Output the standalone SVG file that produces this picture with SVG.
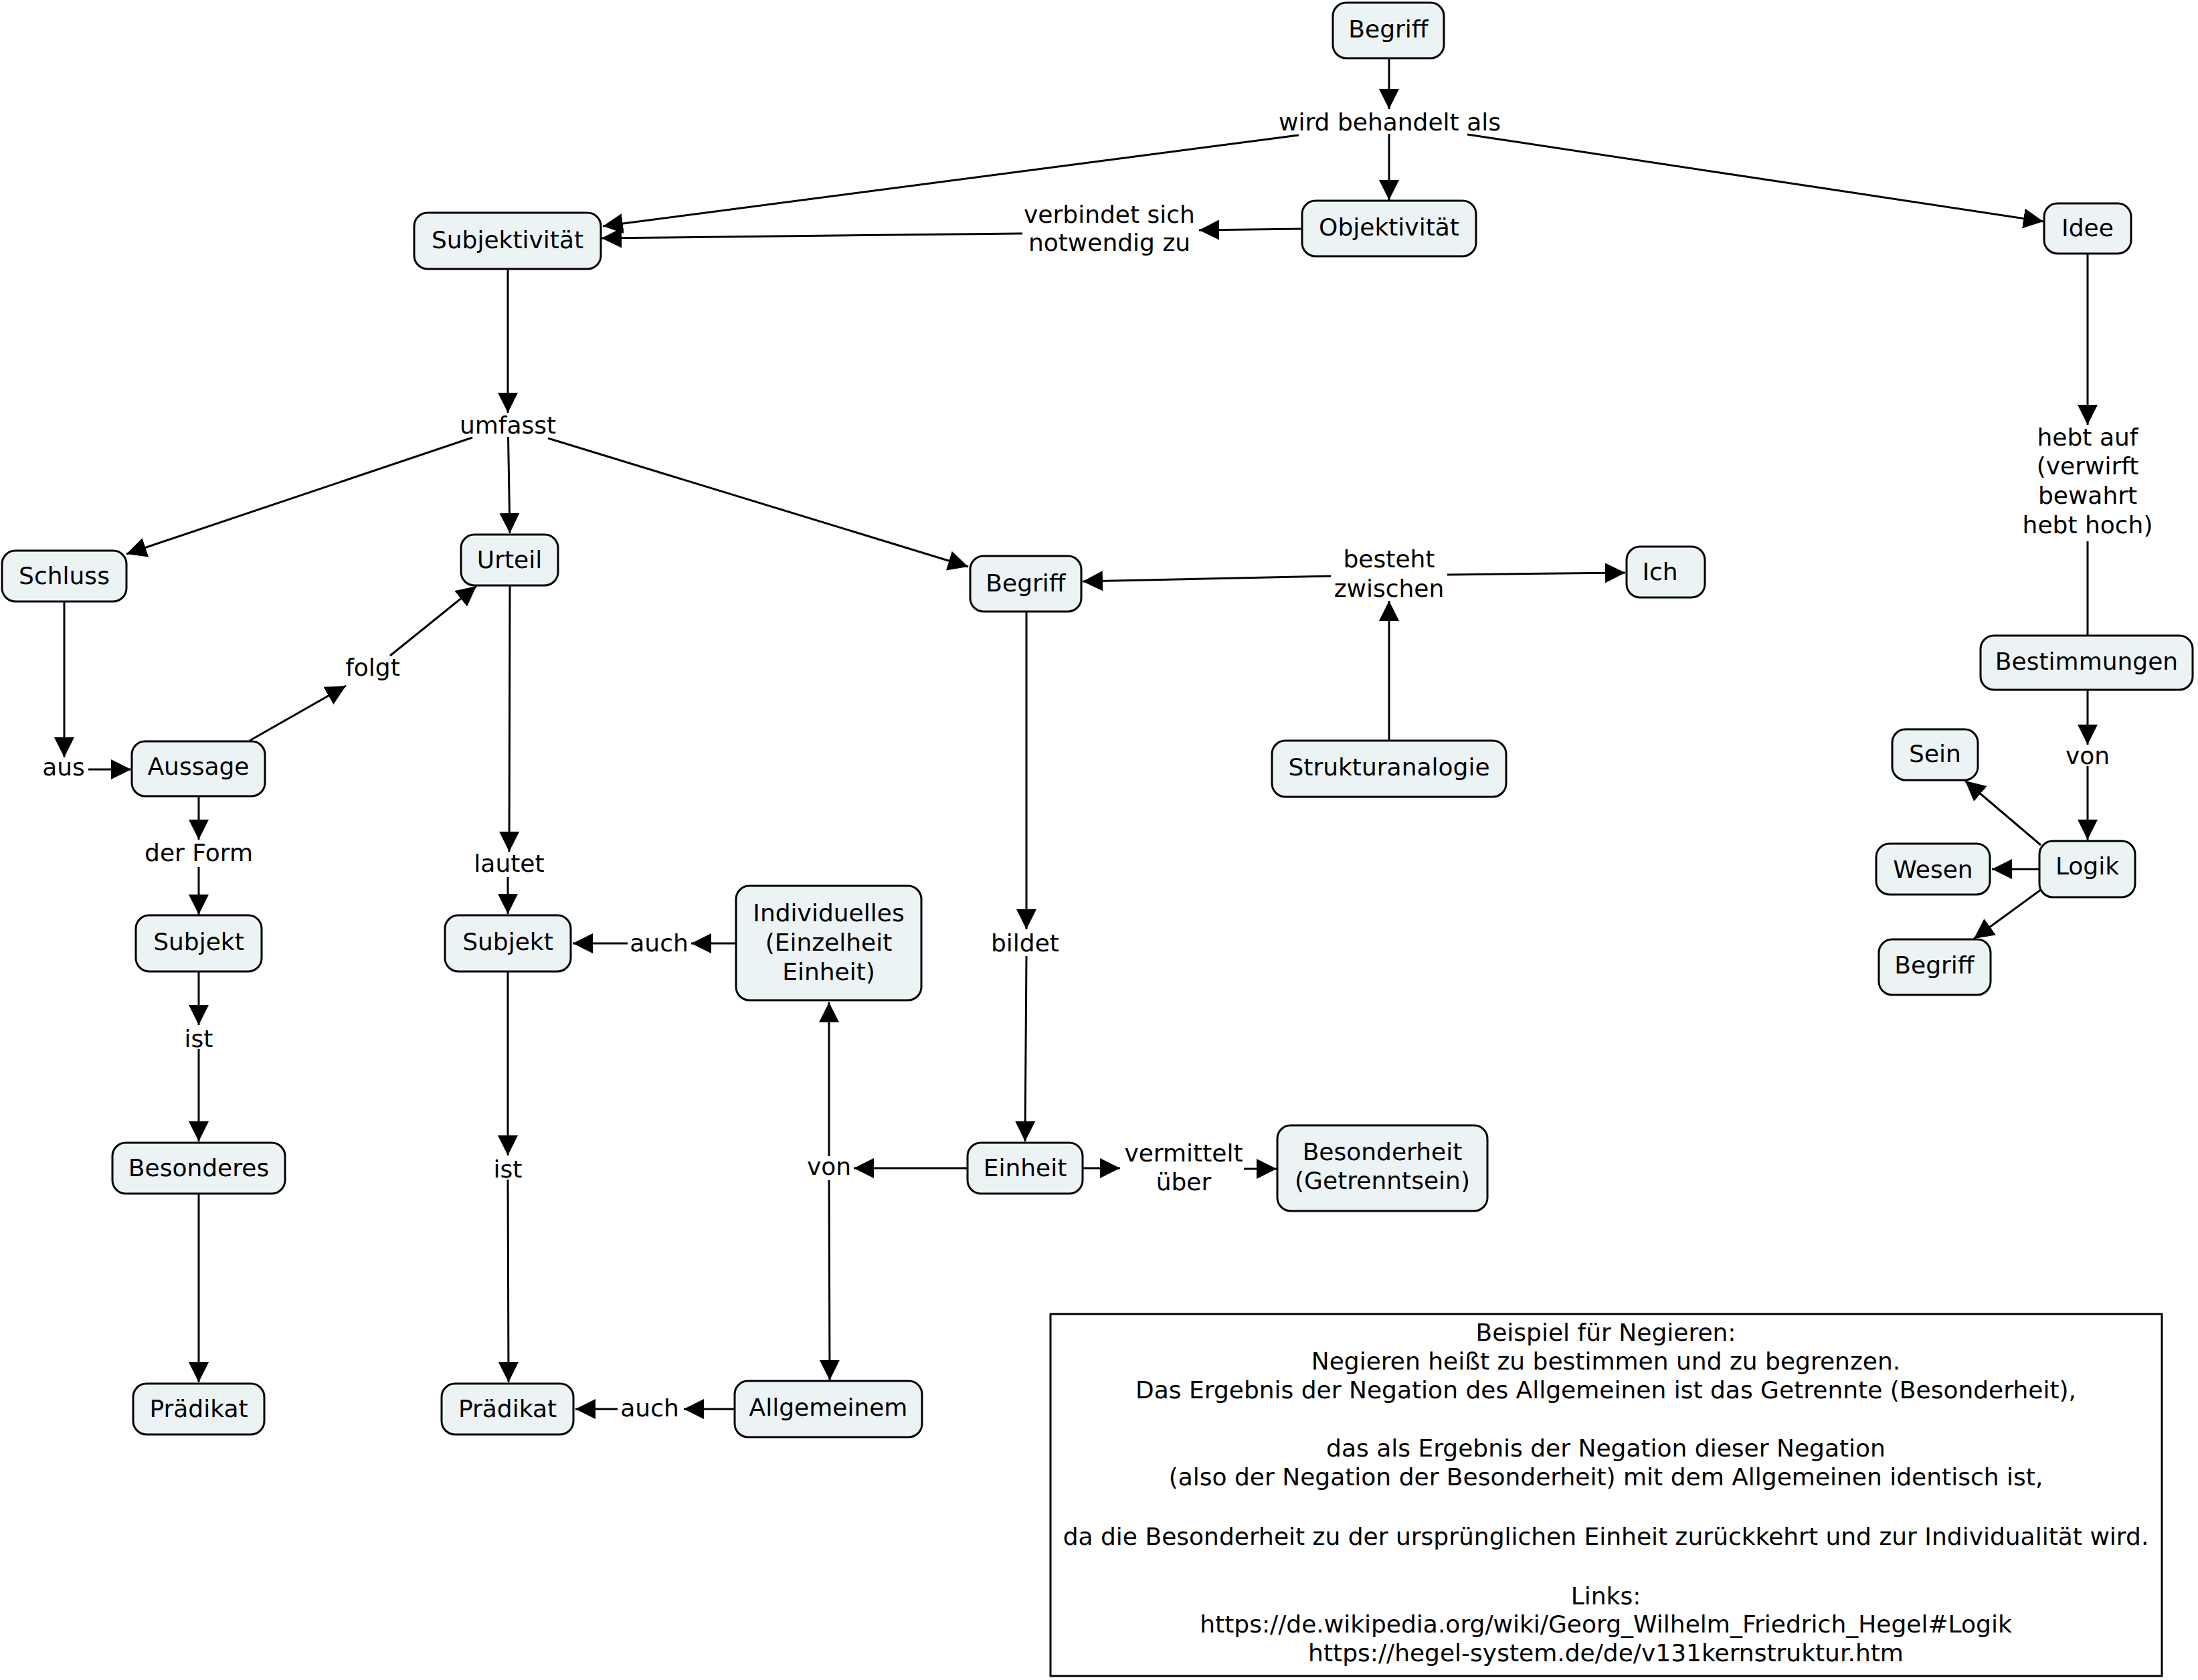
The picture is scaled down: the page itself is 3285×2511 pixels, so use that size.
<svg xmlns="http://www.w3.org/2000/svg" width="3285" height="2511" viewBox="0 0 3285 2511">
<style>
.n rect{fill:#ECF3F5;stroke:#000;stroke-width:3}
text{font-family:"DejaVu Sans","Verdana",sans-serif;font-size:36px;fill:#000;text-anchor:middle}
.c line{stroke:#000;stroke-width:3;fill:none}
.c line.a{marker-end:url(#ah)}
</style>
<defs>
<marker id="ah" markerUnits="userSpaceOnUse" markerWidth="32" markerHeight="32" refX="30" refY="15" orient="auto" viewBox="0 0 32 32">
<path d="M0,0 L30,15 L0,30 z" fill="#000"/>
</marker>
</defs>
<rect x="0" y="0" width="3285" height="2511" fill="#fff"/>
<g class="c" id="connectors">
<line class="a" x1="2076" y1="87" x2="2076" y2="163"/>
<line class="a" x1="2076" y1="200" x2="2076" y2="299"/>
<line class="a" x1="1941" y1="202" x2="901" y2="338"/>
<line class="a" x1="2193" y1="201" x2="3054" y2="331"/>
<line class="a" x1="1946" y1="342" x2="1792" y2="344"/>
<line class="a" x1="1528" y1="349" x2="899" y2="356"/>
<line class="a" x1="759" y1="402" x2="759" y2="617"/>
<line class="a" x1="706" y1="654" x2="189" y2="828"/>
<line class="a" x1="759.5" y1="653" x2="762" y2="797"/>
<line class="a" x1="819" y1="655" x2="1447" y2="847"/>
<line class="a" x1="96" y1="899" x2="96" y2="1132"/>
<line class="a" x1="132" y1="1150" x2="196" y2="1150"/>
<line class="a" x1="373" y1="1107" x2="517" y2="1025"/>
<line class="a" x1="583" y1="980" x2="712" y2="876"/>
<line class="a" x1="762" y1="875" x2="761" y2="1273"/>
<line class="a" x1="759" y1="1311" x2="759" y2="1366"/>
<line class="a" x1="297" y1="1190" x2="297" y2="1255"/>
<line class="a" x1="297" y1="1296" x2="297" y2="1367"/>
<line class="a" x1="297" y1="1452" x2="297" y2="1532"/>
<line class="a" x1="297" y1="1568" x2="297" y2="1706"/>
<line class="a" x1="297" y1="1784" x2="297" y2="2066"/>
<line class="a" x1="759" y1="1452" x2="759" y2="1727"/>
<line class="a" x1="759" y1="1763" x2="760" y2="2066"/>
<line class="a" x1="1100" y1="1410" x2="1033" y2="1410"/>
<line class="a" x1="938" y1="1410" x2="856" y2="1410"/>
<line class="a" x1="1097" y1="2106" x2="1022" y2="2106"/>
<line class="a" x1="923" y1="2106" x2="860" y2="2106"/>
<line class="a" x1="1446" y1="1746" x2="1276" y2="1746"/>
<line class="a" x1="1239" y1="1728" x2="1239" y2="1498"/>
<line class="a" x1="1239" y1="1764" x2="1240" y2="2063"/>
<line class="a" x1="1534" y1="914" x2="1534" y2="1389"/>
<line class="a" x1="1534" y1="1429" x2="1532" y2="1706"/>
<line class="a" x1="1618" y1="1746" x2="1674" y2="1746"/>
<line class="a" x1="1859" y1="1747" x2="1908" y2="1747"/>
<line class="a" x1="2076" y1="1107" x2="2076" y2="898"/>
<line class="a" x1="1989" y1="861" x2="1618" y2="869"/>
<line class="a" x1="2163" y1="859" x2="2429" y2="856"/>
<line class="a" x1="3120" y1="379" x2="3120" y2="635"/>
<line x1="3120" y1="809" x2="3120" y2="950"/>
<line class="a" x1="3120" y1="1031" x2="3120" y2="1113"/>
<line class="a" x1="3120" y1="1145" x2="3120" y2="1255"/>
<line class="a" x1="3050" y1="1263" x2="2937" y2="1167"/>
<line class="a" x1="3048" y1="1299" x2="2977" y2="1299"/>
<line class="a" x1="3050" y1="1330" x2="2950" y2="1403"/>
</g>
<g id="labels">
<text x="2077" y="195">wird behandelt als</text>
<text x="1658" y="333">verbindet sich</text>
<text x="1658" y="375">notwendig zu</text>
<text x="759" y="648">umfasst</text>
<text x="3120" y="666">hebt auf</text>
<text x="3120" y="709">(verwirft</text>
<text x="3120" y="753">bewahrt</text>
<text x="3120" y="797">hebt hoch)</text>
<text x="2076" y="848">besteht</text>
<text x="2076" y="892">zwischen</text>
<text x="95" y="1159">aus</text>
<text x="557" y="1010">folgt</text>
<text x="297" y="1287">der Form</text>
<text x="761" y="1303">lautet</text>
<text x="3120" y="1142">von</text>
<text x="297" y="1565">ist</text>
<text x="985" y="1422">auch</text>
<text x="1532" y="1422">bildet</text>
<text x="759" y="1760">ist</text>
<text x="1239" y="1756">von</text>
<text x="1769" y="1736">vermittelt</text>
<text x="1769" y="1779">über</text>
<text x="971" y="2117">auch</text>
</g>
<g class="n" id="n-begriff-top"><rect x="1992" y="4" width="166" height="83" rx="20"/><text x="2075" y="56">Begriff</text></g>
<g class="n" id="n-objektivitaet"><rect x="1946" y="300" width="260" height="83" rx="20"/><text x="2076" y="352">Objektivität</text></g>
<g class="n" id="n-subjektivitaet"><rect x="619" y="318" width="279" height="84" rx="20"/><text x="758.5" y="371">Subjektivität</text></g>
<g class="n" id="n-idee"><rect x="3055" y="304" width="130" height="75" rx="20"/><text x="3120" y="353">Idee</text></g>
<g class="n" id="n-schluss"><rect x="3" y="823" width="186" height="76" rx="20"/><text x="96" y="873">Schluss</text></g>
<g class="n" id="n-urteil"><rect x="689" y="799" width="145" height="76" rx="20"/><text x="761.5" y="849">Urteil</text></g>
<g class="n" id="n-begriff-mid"><rect x="1450" y="831" width="166" height="83" rx="20"/><text x="1533" y="884">Begriff</text></g>
<g class="n" id="n-ich"><rect x="2431" y="817" width="117" height="76" rx="20"/><text x="2481" y="867">Ich</text></g>
<g class="n" id="n-strukturanalogie"><rect x="1901" y="1107" width="350" height="84" rx="20"/><text x="2076" y="1159">Strukturanalogie</text></g>
<g class="n" id="n-bestimmungen"><rect x="2960" y="950" width="317" height="81" rx="20"/><text x="3118.5" y="1001">Bestimmungen</text></g>
<g class="n" id="n-sein"><rect x="2828" y="1090" width="128" height="76" rx="20"/><text x="2892" y="1139">Sein</text></g>
<g class="n" id="n-wesen"><rect x="2804" y="1261" width="170" height="76" rx="20"/><text x="2889" y="1312">Wesen</text></g>
<g class="n" id="n-logik"><rect x="3048" y="1257" width="143" height="84" rx="20"/><text x="3119.5" y="1307">Logik</text></g>
<g class="n" id="n-begriff-right"><rect x="2808" y="1404" width="167" height="83" rx="20"/><text x="2891" y="1455">Begriff</text></g>
<g class="n" id="n-aussage"><rect x="197" y="1108" width="199" height="82" rx="20"/><text x="296.5" y="1158">Aussage</text></g>
<g class="n" id="n-subjekt1"><rect x="203" y="1368" width="188" height="84" rx="20"/><text x="297" y="1420">Subjekt</text></g>
<g class="n" id="n-besonderes"><rect x="168" y="1708" width="258" height="76" rx="20"/><text x="297" y="1758">Besonderes</text></g>
<g class="n" id="n-praedikat1"><rect x="199" y="2068" width="196" height="76" rx="20"/><text x="297" y="2118">Prädikat</text></g>
<g class="n" id="n-subjekt2"><rect x="665" y="1368" width="188" height="84" rx="20"/><text x="759" y="1420">Subjekt</text></g>
<g class="n" id="n-praedikat2"><rect x="660" y="2068" width="197" height="76" rx="20"/><text x="758.5" y="2118">Prädikat</text></g>
<g class="n" id="n-individuelles"><rect x="1100" y="1324" width="277" height="171" rx="20"/><text x="1238.5" y="1377">Individuelles</text><text x="1238.5" y="1421">(Einzelheit</text><text x="1238.5" y="1465">Einheit)</text></g>
<g class="n" id="n-einheit"><rect x="1446" y="1708" width="172" height="76" rx="20"/><text x="1532" y="1758">Einheit</text></g>
<g class="n" id="n-besonderheit"><rect x="1909" y="1682" width="314" height="128" rx="20"/><text x="2066" y="1734">Besonderheit</text><text x="2066" y="1777">(Getrenntsein)</text></g>
<g class="n" id="n-allgemeinem"><rect x="1098" y="2064" width="280" height="84" rx="20"/><text x="1238" y="2116">Allgemeinem</text></g>
<g id="n-textbox">
<rect x="1570" y="1964" width="1661" height="541" fill="#fff" stroke="#000" stroke-width="3"/>
<text x="2400" y="2004">Beispiel für Negieren:</text>
<text x="2400" y="2047">Negieren heißt zu bestimmen und zu begrenzen.</text>
<text x="2400" y="2090">Das Ergebnis der Negation des Allgemeinen ist das Getrennte (Besonderheit),</text>
<text x="2400" y="2177">das als Ergebnis der Negation dieser Negation</text>
<text x="2400" y="2220">(also der Negation der Besonderheit) mit dem Allgemeinen identisch ist,</text>
<text x="2400" y="2309">da die Besonderheit zu der ursprünglichen Einheit zurückkehrt und zur Individualität wird.</text>
<text x="2400" y="2398">Links:</text>
<text x="2400" y="2440">https://de.wikipedia.org/wiki/Georg_Wilhelm_Friedrich_Hegel#Logik</text>
<text x="2400" y="2483">https://hegel-system.de/de/v131kernstruktur.htm</text>
</g>
</svg>
